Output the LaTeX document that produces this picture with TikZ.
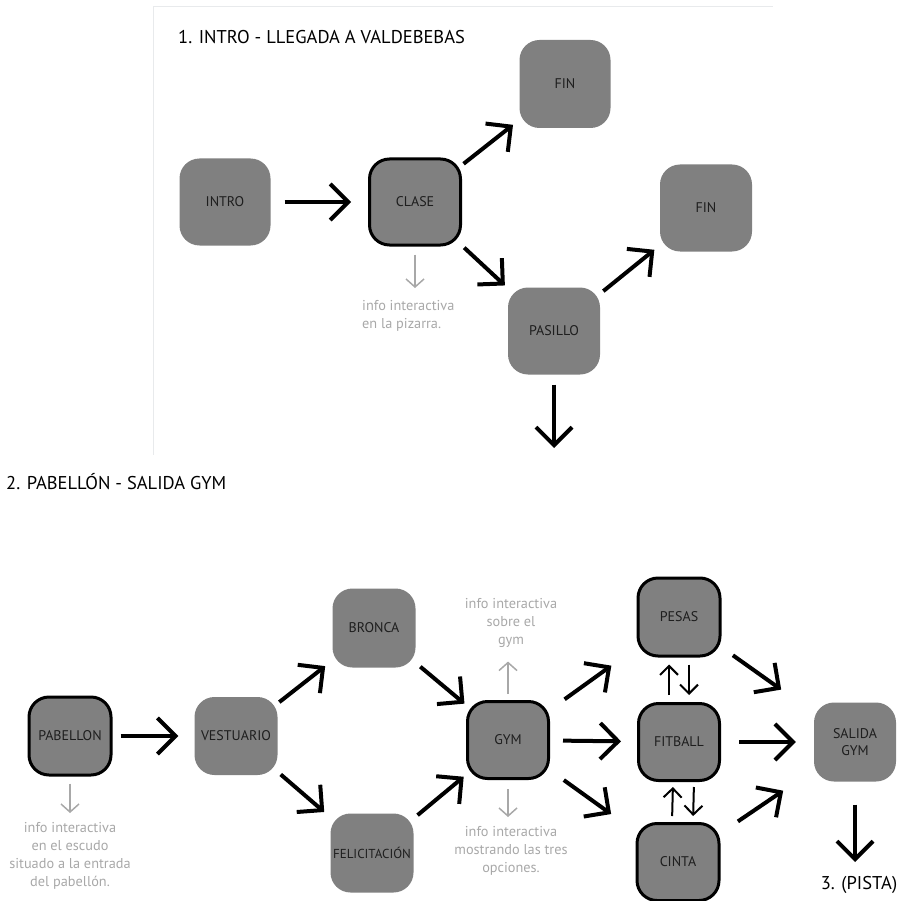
\documentclass[tikz,border=0pt]{standalone}
\usepackage{fontspec}
\setmainfont{PT Sans}
\usetikzlibrary{arrows.meta}
\definecolor{cajagris}{RGB}{128,128,128}
\definecolor{infogris}{RGB}{168,168,168}
\definecolor{textocaja}{RGB}{30,30,30}
\definecolor{marco}{RGB}{232,234,236}

\begin{document}
\begin{tikzpicture}[x=1pt,y=-1pt,
    caja/.style={rounded corners=20pt,fill=cajagris,inner sep=0pt,align=center,
        text=textocaja,font=\fontsize{14}{17}\selectfont},
    activa/.style={caja,draw=black,line width=3pt},
    flecha/.style={-{Straight Barb[length=18pt,width=36pt]},line width=4pt},
    doble/.style={-{Straight Barb[length=9pt,width=18pt]},line width=2pt},
    nota/.style={-{Straight Barb[length=8pt,width=18pt]},line width=1.5pt,infogris},
    info/.style={text=infogris,font=\fontsize{14.3}{18}\selectfont,inner sep=0pt},
    titulo/.style={font=\fontsize{18.5}{21}\selectfont,anchor=west,inner sep=0pt}]
    \useasboundingbox (0,0) rectangle (896,901);

    % Marco de la parte 1
    \draw[marco] (153,455) -- (153,6) -- (773,6);

    % Titulos
    \node[titulo] (tit1) at (178,37) {1. INTRO - LLEGADA A VALDEBEBAS};
    \node[titulo] (tit2) at (6,482) {2. PABELLÓN - SALIDA GYM};

    % Parte 1
    \node[caja,minimum width=91pt,minimum height=87pt] (intro) at (225,202) {INTRO};
    \node[activa,minimum width=91pt,minimum height=86pt] (clase) at (415,202) {CLASE};
    \node[caja,minimum width=91pt,minimum height=88pt] (finA) at (565,84) {FIN};
    \node[caja,minimum width=92pt,minimum height=87pt] (finB) at (706,208) {FIN};
    \node[caja,minimum width=92pt,minimum height=87pt] (pasillo) at (554,331) {PASILLO};
    \node[info,align=left,anchor=north west] (infoclase) at (362,300)
        {info interactiva\\en la pizarra.};
    \coordinate (sigue) at (554,448);

    \draw[flecha,shorten <=14pt,shorten >=17pt] (intro) -- (clase);
    \draw[flecha,shorten <=2pt,shorten >=8pt] (clase) -- (finA);
    \draw[flecha,shorten <=3pt,shorten >=4pt] (clase) -- (pasillo);
    \draw[flecha,shorten <=4pt,shorten >=7pt] (pasillo) -- (finB);
    \draw[flecha,shorten <=10pt] (pasillo) -- (sigue);
    \draw[nota,shorten <=8pt,shorten >=12pt] (clase.south) -- (clase.south |- infoclase.north);

    % Parte 2
    \node[activa,minimum width=82pt,minimum height=78pt] (pabellon) at (70,736) {PABELLON};
    \node[caja,minimum width=83pt,minimum height=78pt] (vestuario) at (236,736) {VESTUARIO};
    \node[caja,minimum width=83pt,minimum height=79pt] (bronca) at (374,628) {BRONCA};
    \node[caja,minimum width=83pt,minimum height=79pt,font=\fontsize{13}{16}\selectfont] (felicitacion) at (372,853) {FELICITACIÓN};
    \node[activa,minimum width=81pt,minimum height=77pt] (gym) at (508,740) {GYM};
    \node[activa,minimum width=82pt,minimum height=78pt] (pesas) at (679,617) {PESAS};
    \node[activa,minimum width=81pt,minimum height=77pt] (fitball) at (679,742) {FITBALL};
    \node[activa,minimum width=82pt,minimum height=77pt] (cinta) at (678,862) {CINTA};
    \node[caja,minimum width=82pt,minimum height=79pt] (salida) at (855,742) {SALIDA\\GYM};
    \node[titulo,anchor=north] (pista) at (859,876) {3. (PISTA)};

    \node[info,align=center,anchor=north] (infopab) at (70,822)
        {info interactiva\\en el escudo\\situado a la entrada\\del pabellón.};
    \node[info,align=center,anchor=north] (infogymA) at (511,598)
        {info interactiva\\sobre el\\gym};
    \node[info,align=center,anchor=north] (infogymB) at (511,826)
        {info interactiva\\mostrando las tres\\opciones.};

    \draw[flecha,shorten <=8pt,shorten >=16pt] (pabellon) -- (vestuario);
    \draw[flecha,shorten <=2pt,shorten >=9pt] (vestuario) -- (bronca);
    \draw[flecha,shorten <=4pt,shorten >=8pt] (vestuario) -- (felicitacion);
    \draw[flecha,shorten <=6pt,shorten >=2pt] (bronca) -- (gym);
    \draw[flecha,shorten <=5pt,shorten >=3pt] (felicitacion) -- (gym);
    \draw[flecha,shorten <=18pt,shorten >=31pt] (gym) -- (pesas);
    \draw[flecha,shorten <=13pt,shorten >=16pt] (gym) -- (fitball);
    \draw[flecha,shorten <=17pt,shorten >=30pt] (gym) -- (cinta);
    \draw[flecha,shorten <=14pt,shorten >=40pt] (pesas) -- (salida);
    \draw[flecha,shorten <=18pt,shorten >=18pt] (fitball) -- (salida);
    \draw[flecha,shorten <=21pt,shorten >=37pt] (cinta) -- (salida);
    \draw[flecha,shorten <=23pt,shorten >=14pt] (salida.south) -- (salida.south |- pista.north);

    % Idas y vueltas
    \draw[doble,shorten <=7pt,shorten >=7pt] ([xshift=-10pt]fitball.north) -- ([xshift=-10pt]pesas.south);
    \draw[doble,shorten <=7pt,shorten >=7pt] ([xshift=10pt]pesas.south) -- ([xshift=10pt]fitball.north);
    \draw[doble,shorten <=6pt,shorten >=5pt] ([xshift=-6pt]cinta.north) -- ([xshift=-6pt]fitball.south);
    \draw[doble,shorten <=5pt,shorten >=6pt] ([xshift=15pt]fitball.south) -- ([xshift=15pt]cinta.north);

    % Flechas de info
    \draw[nota,shorten <=7pt,shorten >=9pt] (pabellon) -- (infopab);
    \draw[nota,shorten <=6pt,shorten >=14pt] (gym.north) -- (gym.north |- infogymA.south);
    \draw[nota,shorten <=9pt,shorten >=9pt] (gym.south) -- (gym.south |- infogymB.north);
\end{tikzpicture}
\end{document}
